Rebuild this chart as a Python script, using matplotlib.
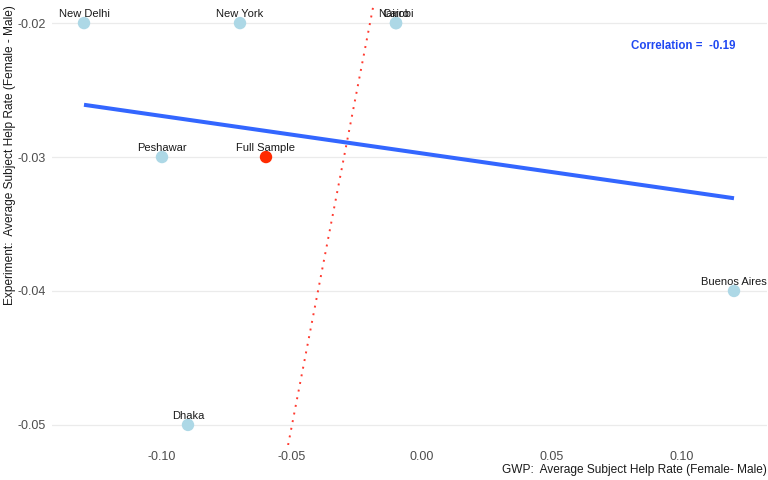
import matplotlib
matplotlib.use("Agg")
import matplotlib.pyplot as plt
import numpy as np

plt.rcParams['font.family'] = ['Liberation Sans', 'DejaVu Sans']
plt.rcParams['axes.unicode_minus'] = False

# city-level differences (female - male)
cities = ["New Delhi", "New York", "Nairobi", "Cairo", "Peshawar", "Buenos Aires", "Dhaka"]
gwp = [-0.13, -0.07, -0.01, -0.01, -0.10, 0.12, -0.09]
experiment = [-0.02, -0.02, -0.02, -0.02, -0.03, -0.04, -0.05]

full_label = "Full Sample"
full_gwp = -0.06
full_exp = -0.03

x_ticks = [-0.10, -0.05, 0.00, 0.05, 0.10]
y_ticks = [-0.05, -0.04, -0.03, -0.02]

gx = np.array(gwp)
ey = np.array(experiment)
slope, intercept = np.polyfit(gx, ey, 1)
corr = np.corrcoef(gx, ey)[0, 1]

fig = plt.figure(figsize=(7.68, 4.8), dpi=100)
ax = fig.add_axes([51.5/768, 35/480, 715/768, 442/480])

# 45 degree reference line
ax.axline((0, 0), slope=1, color='#ff3b30', lw=1.4, ls=(0, (1, 3)), zorder=2)

xs = np.array([gx.min(), gx.max()])
ax.plot(xs, intercept + slope*xs, color='#3366FF', lw=2.9, zorder=3, solid_capstyle='butt')

ax.scatter(gwp, experiment, s=80, color='#ADD8E6', edgecolors='none', zorder=4)
ax.scatter([full_gwp], [full_exp], s=80, color='#FF2A00', edgecolors='none', zorder=4)

for name, x, y in zip(cities, gwp, experiment):
    ax.annotate(name, (x, y), xytext=(0, 3), textcoords='offset points',
                ha='center', va='bottom', fontsize=8, color='#1a1a1a', zorder=5)
ax.annotate(full_label, (full_gwp, full_exp), xytext=(0, 3), textcoords='offset points',
            ha='center', va='bottom', fontsize=8, color='#1a1a1a', zorder=5)

ax.text(0.1004, -0.0217, "Correlation =  %.2f" % corr, color='#1f48f2',
        fontsize=8.3, fontweight='bold', ha='center', va='center')

ax.set_xlim(-0.1425, 0.1325)
ax.set_ylim(-0.0515, -0.0185)
ax.set_xticks(x_ticks)
ax.set_xticklabels(["%.2f" % t for t in x_ticks])
ax.set_yticks(y_ticks)
ax.set_yticklabels(["%.2f" % t for t in y_ticks])
ax.tick_params(length=0, labelsize=9, labelcolor='#4d4d4d', pad=4)
ax.grid(axis='y', color='#ebebeb', lw=0.9)
ax.set_axisbelow(True)
for s in ax.spines.values():
    s.set_visible(False)

ax.set_xlabel("GWP:  Average Subject Help Rate (Female- Male)", fontsize=8.6,
              color='#1a1a1a', loc='right', labelpad=1)
ax.set_ylabel("Experiment:  Average Subject Help Rate (Female - Male)", fontsize=8.6,
              color='#1a1a1a', loc='top')
ax.yaxis.set_label_coords(-0.049, 0.995)

fig.savefig("out.png", dpi=100)
